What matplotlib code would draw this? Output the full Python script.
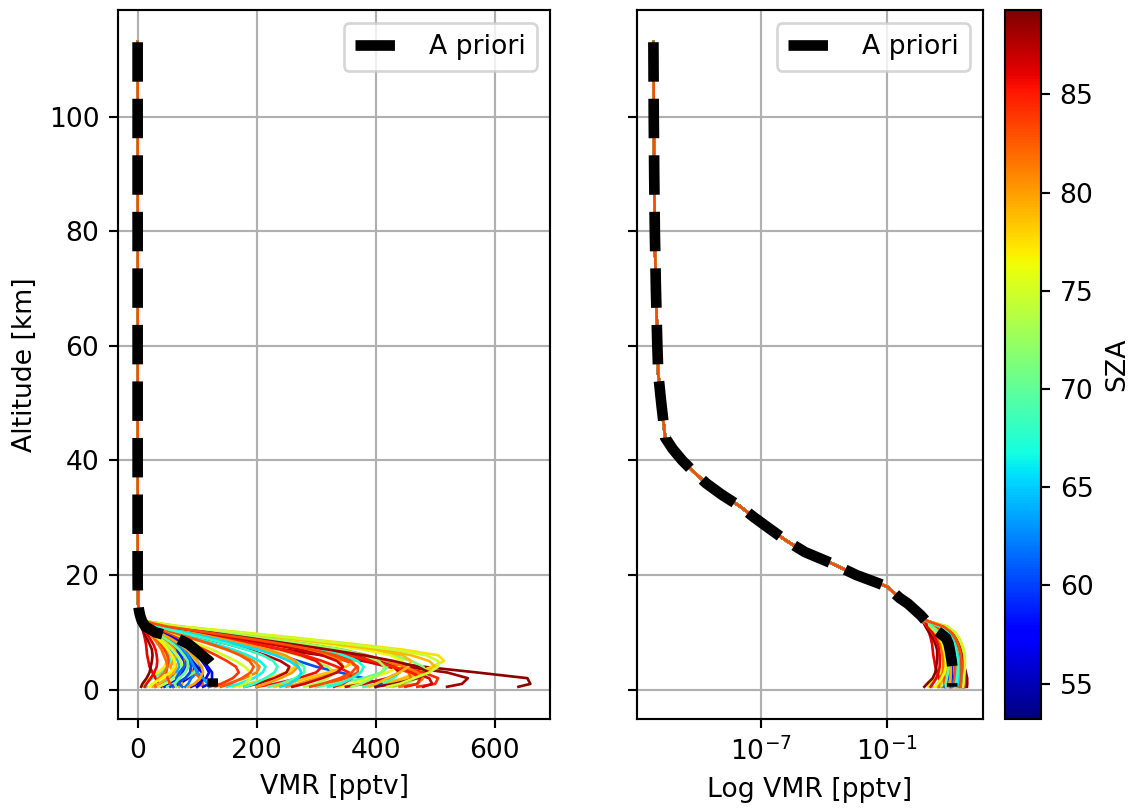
import numpy as np
import matplotlib
matplotlib.use('Agg')
import matplotlib.pyplot as plt
from matplotlib.colors import Normalize
from matplotlib.ticker import NullLocator

# altitude grid [km]
alt = [0.5, 1, 2, 3, 4, 5, 6, 7, 8, 9, 10, 11, 12,
       13, 14, 15, 16, 18, 20, 22, 24, 26, 28, 30, 32, 34, 36, 38,
       40, 42, 44, 46, 50, 55, 60, 70, 80, 90, 100, 113]

# a priori VMR [pptv]
apriori = [126, 126, 126, 127, 128, 120, 108, 97, 85, 65, 30, 13, 7,
           4.0, 2.0, 1.0, 0.4, 0.1, 3.5e-3, 2.5e-4, 1.26e-5, 1.6e-6, 2.8e-7, 5e-8,
           1e-8, 1.4e-9, 2.5e-10, 6.3e-11, 1.8e-11, 6.3e-12, 2.75e-12, 2.4e-12,
           1.8e-12, 1.3e-12, 1.17e-12, 1.0e-12, 8.9e-13, 8.3e-13, 7.9e-13, 7.6e-13]

n_low = 13  # retrieved profiles differ from the a priori only below 13 km

# solar zenith angle of each retrieval
sza = [88.8, 88.2, 77.5, 79.0, 71.5, 84.5, 86.5, 82.0, 68.5, 60.5,
       83.0, 80.5, 73.5, 85.5, 69.5, 78.0, 87.5, 66.5, 81.0, 75.0, 84.0,
       57.0, 55.0, 59.0, 62.0, 64.0, 67.5, 77.0, 80.0, 82.5, 86.0, 89.0,
       71.0, 74.0, 58.0, 61.0, 79.5, 83.5, 70.0, 76.0, 87.0, 81.5, 78.5, 85.0,
       84.8, 78.8, 72.5, 67.0, 86.8, 80.2, 65.5, 82.8, 56.0, 60.0,
       63.0, 79.8, 81.8, 76.5, 70.5, 85.8, 88.5, 74.5, 68.0, 83.2]

# retrieved VMR [pptv] at 0.5, 1, 2, ... 12 km
vmr_low = [
    [640, 660, 655, 570, 480, 400, 320, 245, 175, 115, 65, 28, 8],
    [520, 545, 555, 520, 450, 380, 310, 240, 175, 118, 66, 28, 8],
    [400, 420, 445, 470, 495, 515, 505, 445, 360, 270, 175, 75, 8],
    [380, 410, 450, 480, 500, 490, 460, 410, 340, 255, 165, 70, 8],
    [430, 450, 470, 485, 480, 460, 430, 385, 320, 240, 155, 65, 8],
    [470, 500, 505, 480, 440, 400, 360, 310, 250, 185, 120, 50, 7],
    [480, 495, 490, 460, 420, 380, 330, 280, 220, 160, 100, 45, 7],
    [420, 445, 460, 455, 435, 405, 370, 325, 265, 200, 130, 55, 7],
    [380, 410, 430, 440, 430, 410, 380, 335, 275, 205, 135, 58, 7],
    [400, 410, 380, 340, 300, 270, 240, 205, 165, 120, 75, 35, 7],
    [300, 320, 350, 370, 370, 350, 320, 280, 230, 170, 110, 48, 7],
    [250, 270, 300, 330, 345, 340, 315, 275, 225, 165, 105, 45, 7],
    [280, 300, 320, 330, 320, 300, 270, 235, 190, 140, 90, 40, 7],
    [200, 230, 270, 300, 310, 300, 275, 240, 195, 145, 92, 40, 7],
    [220, 240, 265, 280, 280, 265, 240, 205, 165, 120, 78, 35, 7],
    [160, 185, 220, 250, 265, 260, 240, 210, 170, 125, 80, 36, 7],
    [180, 200, 230, 250, 255, 240, 215, 185, 150, 110, 70, 32, 7],
    [150, 170, 195, 210, 215, 205, 185, 160, 130, 95, 62, 28, 6],
    [130, 150, 180, 200, 205, 195, 175, 150, 120, 88, 57, 26, 6],
    [170, 180, 190, 190, 180, 165, 145, 125, 100, 75, 50, 24, 6],
    [120, 140, 160, 170, 165, 150, 132, 112, 90, 67, 45, 22, 6],
    [90, 100, 115, 120, 115, 108, 100, 90, 78, 60, 38, 15, 5],
    [60, 70, 85, 95, 95, 90, 85, 80, 70, 55, 35, 14, 5],
    [45, 55, 70, 75, 80, 78, 72, 65, 55, 42, 28, 12, 5],
    [80, 85, 90, 100, 105, 100, 92, 82, 70, 54, 35, 14, 5],
    [30, 40, 55, 65, 70, 68, 62, 55, 46, 36, 24, 11, 5],
    [15, 12, 25, 40, 50, 55, 52, 46, 38, 30, 20, 10, 5],
    [10, 8, 20, 35, 45, 50, 48, 42, 35, 27, 18, 9, 5],
    [70, 75, 70, 60, 55, 60, 65, 62, 52, 40, 26, 11, 5],
    [100, 110, 105, 95, 85, 80, 78, 70, 58, 44, 28, 12, 5],
    [40, 35, 30, 25, 20, 18, 16, 15, 14, 12, 10, 7, 5],
    [6, 8, 15, 20, 22, 24, 25, 24, 20, 15, 10, 7, 5],
    [50, 60, 80, 95, 100, 98, 90, 80, 67, 51, 33, 14, 5],
    [35, 45, 60, 70, 75, 72, 66, 58, 48, 37, 24, 11, 5],
    [110, 120, 125, 125, 118, 110, 100, 88, 74, 57, 37, 15, 5],
    [75, 70, 65, 70, 78, 82, 80, 72, 60, 46, 30, 13, 5],
    [25, 35, 50, 60, 65, 62, 57, 50, 42, 32, 21, 10, 5],
    [60, 55, 50, 48, 50, 52, 50, 45, 38, 29, 19, 9, 5],
    [300, 330, 380, 410, 420, 410, 385, 345, 285, 215, 140, 60, 7],
    [340, 360, 390, 420, 440, 445, 425, 380, 315, 235, 152, 65, 8],
    [350, 380, 420, 440, 430, 405, 370, 325, 265, 198, 128, 55, 7],
    [440, 470, 480, 470, 450, 420, 385, 340, 280, 210, 135, 58, 7],
    [230, 250, 285, 320, 350, 365, 355, 320, 265, 200, 128, 55, 7],
    [330, 345, 360, 355, 335, 310, 280, 245, 200, 150, 97, 42, 7],
    [450, 470, 475, 460, 430, 395, 355, 305, 245, 180, 115, 50, 8],
    [390, 400, 420, 440, 455, 460, 445, 400, 330, 248, 160, 68, 8],
    [360, 375, 395, 410, 415, 405, 380, 340, 280, 210, 135, 58, 8],
    [320, 340, 360, 375, 380, 370, 345, 305, 250, 188, 122, 53, 8],
    [260, 280, 310, 335, 345, 335, 310, 272, 222, 166, 107, 47, 8],
    [200, 215, 240, 260, 270, 265, 248, 218, 178, 133, 86, 38, 8],
    [240, 255, 270, 275, 270, 255, 232, 202, 165, 123, 80, 36, 8],
    [140, 155, 175, 190, 195, 188, 172, 150, 122, 91, 59, 27, 7],
    [100, 105, 110, 108, 100, 92, 85, 78, 68, 52, 33, 14, 7],
    [55, 65, 80, 88, 90, 86, 80, 72, 61, 47, 30, 13, 7],
    [120, 118, 110, 100, 95, 90, 85, 77, 65, 50, 32, 14, 7],
    [85, 95, 105, 110, 108, 100, 92, 82, 70, 54, 35, 15, 7],
    [30, 28, 35, 45, 50, 48, 44, 40, 34, 27, 18, 9, 7],
    [20, 25, 40, 55, 62, 62, 58, 51, 43, 33, 22, 10, 7],
    [65, 62, 70, 80, 85, 84, 78, 70, 59, 45, 29, 13, 7],
    [12, 15, 22, 28, 32, 33, 32, 30, 26, 20, 14, 8, 7],
    [400, 430, 470, 490, 470, 430, 380, 320, 255, 188, 120, 52, 8],
    [420, 440, 465, 490, 505, 505, 485, 430, 350, 262, 170, 72, 8],
    [180, 195, 215, 230, 235, 228, 210, 183, 150, 112, 72, 33, 7],
    [290, 310, 340, 360, 368, 358, 333, 294, 241, 180, 116, 50, 8],
]

cmap = plt.get_cmap('jet')
norm = Normalize(vmin=53.2, vmax=89.3)

W, H = 1129, 808
DPI = 192
fig = plt.figure(figsize=(W / DPI, H / DPI), dpi=DPI)
ax1 = fig.add_axes([118 / W, 89 / H, 432 / W, 709 / H])
ax2 = fig.add_axes([637 / W, 89 / H, 346 / W, 709 / H], sharey=ax1)
cax = fig.add_axes([1005 / W, 89 / H, 36 / W, 709 / H])

# profiles are drawn from the top down
for s, low in zip(sza, vmr_low):
    prof = (low + apriori[n_low:])[::-1]
    c = cmap(norm(s))
    ax1.plot(prof, alt[::-1], color=c, lw=1)
    ax2.plot(prof, alt[::-1], color=c, lw=1)

ax1.plot(apriori[::-1], alt[::-1], 'k--', lw=4, label='A priori')
ax2.plot(apriori[::-1], alt[::-1], 'k--', lw=4, label='A priori')

ax2.set_xscale('log')
ax2.set_xticks([1e-13, 1e-7, 1e-1])
ax2.xaxis.set_minor_locator(NullLocator())
ax2.set_xlim(10 ** -12.9, 10 ** 3.57)
ax2.tick_params(labelleft=False)

for ax in (ax1, ax2):
    ax.grid(True)
    ax.legend(loc='upper right')

ax1.set_xlabel('VMR [pptv]')
ax1.set_ylabel('Altitude [km]')
ax2.set_xlabel('Log VMR [pptv]')

sm = plt.cm.ScalarMappable(cmap=cmap, norm=norm)
cb = fig.colorbar(sm, cax=cax)
cb.set_label('SZA')

fig.savefig('out.png', dpi=DPI)
